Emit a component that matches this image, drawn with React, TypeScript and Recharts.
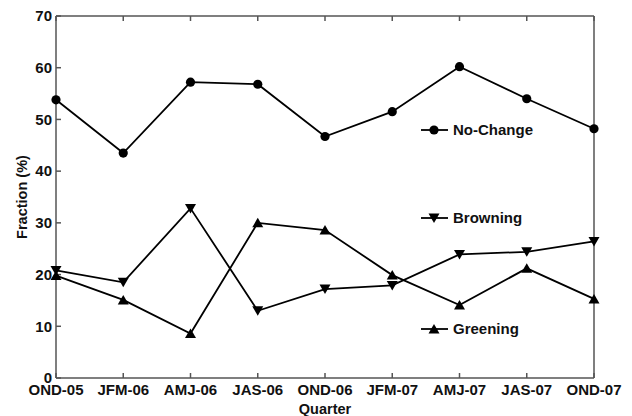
import React from "react"
import { LineChart, Line, XAxis, YAxis } from "recharts"

const quarters = ["OND-05", "JFM-06", "AMJ-06", "JAS-06", "OND-06", "JFM-07", "AMJ-07", "JAS-07", "OND-07"]
const noChange = [53.8, 43.5, 57.2, 56.8, 46.7, 51.5, 60.2, 54.0, 48.2]
const browning = [20.8, 18.5, 32.8, 13.0, 17.2, 17.9, 23.9, 24.4, 26.4]
const greening = [19.8, 15.1, 8.6, 30.0, 28.6, 19.9, 14.1, 21.2, 15.3]
const yTicks = [0, 10, 20, 30, 40, 50, 60, 70]

const data = quarters.map((q, i) => ({
  quarter: q,
  noChange: noChange[i],
  browning: browning[i],
  greening: greening[i],
}))

const font = "'Liberation Sans', Arial, sans-serif"
const axisColor = "#555"
const tickStyle = { fill: "#111", fontSize: 15, fontWeight: 700, fontFamily: font }

const Circle = (p: any) => <circle key={`c-${p.index}`} cx={p.cx} cy={p.cy} r={4.6} fill="#000" />
const Down = (p: any) => (
  <polygon
    key={`d-${p.index}`}
    points={`${p.cx - 5.5},${p.cy - 4.5} ${p.cx + 5.5},${p.cy - 4.5} ${p.cx},${p.cy + 5}`}
    fill="#000"
  />
)
const Up = (p: any) => (
  <polygon
    key={`u-${p.index}`}
    points={`${p.cx - 5.5},${p.cy + 4.5} ${p.cx + 5.5},${p.cy + 4.5} ${p.cx},${p.cy - 5}`}
    fill="#000"
  />
)

const Empty = () => <g />

// legend entries sit at fixed spots inside the plot
function LegendOverlay() {
  const items = [
    { label: "No-Change", y: 130, mark: "circle" },
    { label: "Browning", y: 218, mark: "down" },
    { label: "Greening", y: 329, mark: "up" },
  ]
  return (
    <svg width={632} height={416} style={{ position: "absolute", left: 0, top: 0, pointerEvents: "none" }}>
      {items.map((it) => (
        <g key={it.label}>
          <line x1={421} x2={448} y1={it.y} y2={it.y} stroke="#000" strokeWidth={1.8} />
          {it.mark === "circle" && <circle cx={434} cy={it.y} r={4.6} fill="#000" />}
          {it.mark === "down" && (
            <polygon points={`${428.5},${it.y - 4.5} ${439.5},${it.y - 4.5} ${434},${it.y + 5}`} fill="#000" />
          )}
          {it.mark === "up" && (
            <polygon points={`${428.5},${it.y + 4.5} ${439.5},${it.y + 4.5} ${434},${it.y - 5}`} fill="#000" />
          )}
          <text x={453} y={it.y + 5} fontSize={15} fontWeight={700} fontFamily={font} fill="#111">
            {it.label}
          </text>
        </g>
      ))}
    </svg>
  )
}

export default function App() {
  return (
    <div style={{ position: "absolute", left: 0, top: 0, width: 632, height: 416, background: "#fff" }}>
      <LineChart width={632} height={416} data={data} margin={{ top: 12, right: 34, bottom: 0, left: 0 }}>
        <XAxis
          dataKey="quarter"
          height={38}
          interval={0}
          stroke={axisColor}
          strokeWidth={1.5}
          tickSize={-5}
          tickMargin={11}
          tick={tickStyle}
          label={{ value: "Quarter", position: "insideBottom", offset: 2, fill: "#111", fontSize: 14.5, fontWeight: 700, fontFamily: font }}
        />
        <XAxis xAxisId="top" dataKey="quarter" orientation="top" height={4} interval={0} stroke={axisColor} strokeWidth={1.5} tickSize={-5} tick={Empty} />
        <YAxis
          domain={[0, 70]}
          ticks={yTicks}
          width={56}
          stroke={axisColor}
          strokeWidth={1.5}
          tickSize={-5}
          tickMargin={9}
          tick={tickStyle}
          label={{ value: "Fraction (%)", angle: -90, position: "insideLeft", offset: 22, fill: "#111", fontSize: 14.5, fontWeight: 700, fontFamily: font, style: { textAnchor: "middle" } }}
        />
        <YAxis yAxisId="right" orientation="right" domain={[0, 70]} ticks={yTicks} width={4} stroke={axisColor} strokeWidth={1.5} tickSize={-5} tick={Empty} />
        <Line dataKey="noChange" stroke="#000" strokeWidth={1.8} dot={Circle} isAnimationActive={false} />
        <Line dataKey="browning" stroke="#000" strokeWidth={1.8} dot={Down} isAnimationActive={false} />
        <Line dataKey="greening" stroke="#000" strokeWidth={1.8} dot={Up} isAnimationActive={false} />
      </LineChart>
      <LegendOverlay />
    </div>
  )
}
